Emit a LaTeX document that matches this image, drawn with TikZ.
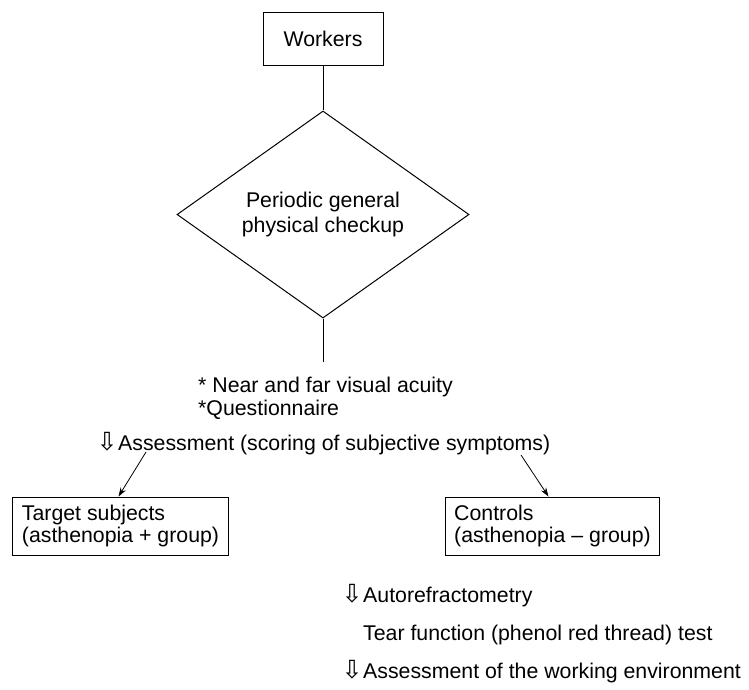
\documentclass[tikz,border=0pt]{standalone}
\usepackage{fontspec}
\setmainfont{Liberation Sans}
\newfontfamily\arrowfont{DejaVu Sans}
\usetikzlibrary{shapes.geometric,arrows.meta,calc}
\newcommand{\darr}{\makebox[20pt][l]{\hspace{-1.5pt}\arrowfont\fontsize{25}{25}\selectfont ⇩}}
\begin{document}
\begin{tikzpicture}[x=1pt,y=-1pt,
  every node/.style={font=\fontsize{21.3}{22}\selectfont, inner sep=0pt},
  box/.style={draw, line width=1pt, minimum height=58pt, inner xsep=9pt, align=left},
  lbl/.style={anchor=base west},
  conn/.style={line width=1pt},
  arr/.style={line width=0.8pt, -{Stealth[length=9pt,width=6pt]}}]
\useasboundingbox (0,0) rectangle (749,689);
\node[draw, line width=1pt, minimum width=120pt, minimum height=53pt] (workers) at (323,38.5) {Workers};
\node[draw, line width=1pt, diamond, minimum width=292pt, minimum height=185pt, align=center,
  font=\fontsize{21.3}{25}\selectfont] (check) at (323,214.5) {Periodic general\\physical checkup};
\coordinate (c1) at (323,362);
\draw[conn] (workers.south) -- (check.north);
\draw[conn] (check.south) -- (c1);
\node[lbl] (near) at (198,392) {* Near and far visual acuity};
\node[lbl] (quest) at (198,415) {*Questionnaire};
\node[lbl] (assess) at (98,450) {\darr Assessment (scoring of subjective symptoms)};
\node[box, minimum width=215pt] (target) at (120.5,526) {Target subjects\\(asthenopia + group)};
\node[box, minimum width=213pt] (controls) at (552.5,526) {Controls\\(asthenopia -- group)};
\coordinate (a1) at (146,452);
\coordinate (a2) at (521,455);
\draw[arr] (a1) -- ($(target.north)+(-2,0)$);
\draw[arr] (a2) -- ($(controls.north)+(-4,0)$);
\node[lbl] (auto) at (343,602) {\darr Autorefractometry};
\node[lbl] (tear) at (363,640) {Tear function (phenol red thread) test};
\node[lbl] (env) at (343,678) {\darr Assessment of the working environment};
\end{tikzpicture}
\end{document}
